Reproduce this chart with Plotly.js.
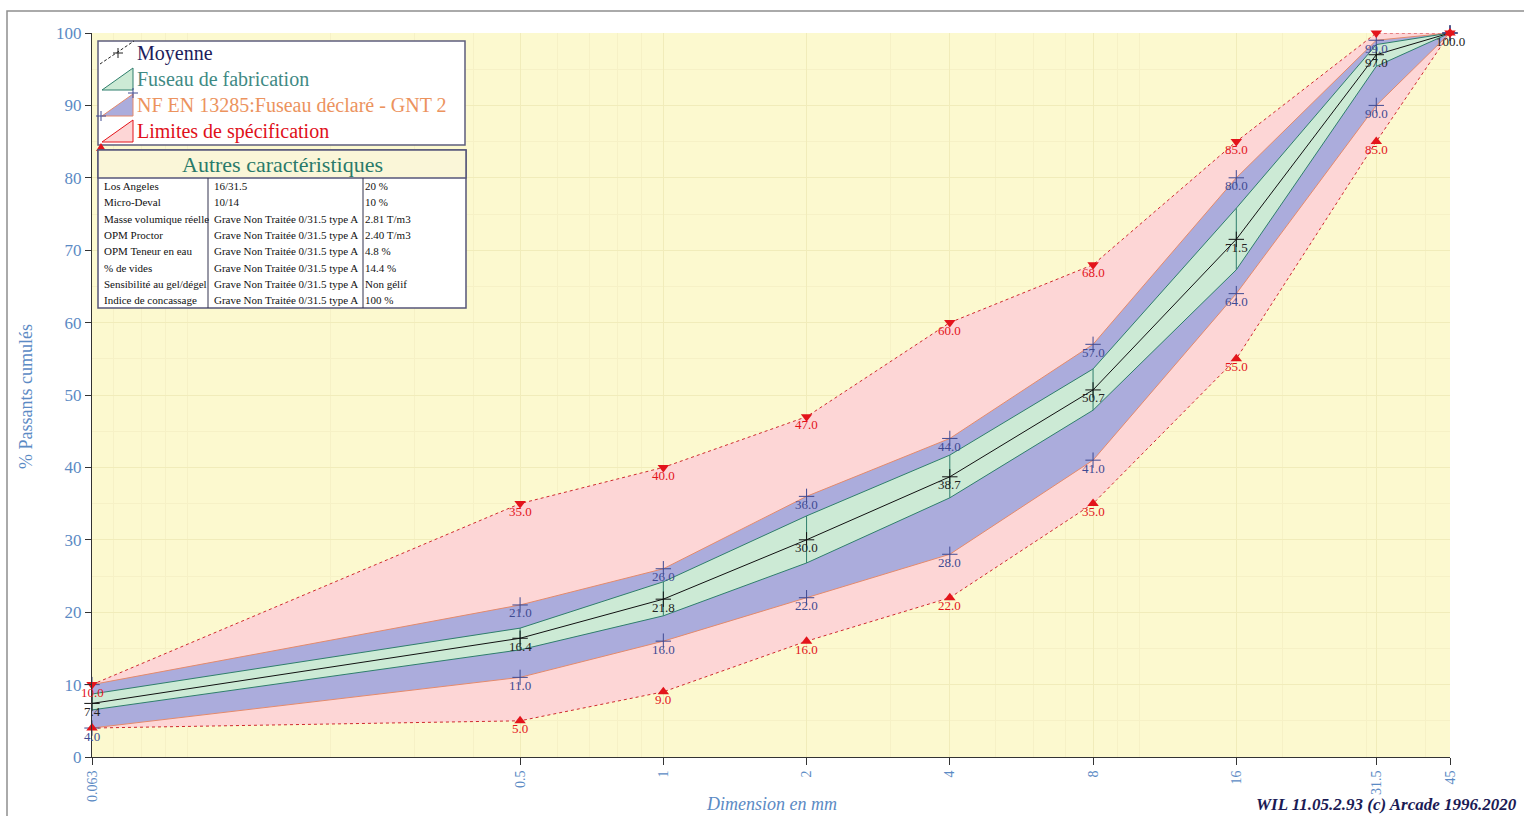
<!DOCTYPE html>
<html>
<head>
<meta charset="utf-8">
<script src="https://cdn.plot.ly/plotly-3.0.1.min.js"></script>
<style>html,body{margin:0;padding:0;background:#fff;}#chart{width:1524px;height:816px;}</style>
</head>
<body>
<div id="chart"></div>
<script>
// ---------- DATA ----------
const sieves = [0.063, 0.5, 1, 2, 4, 8, 16, 31.5, 45];
const sieveLabels = ["0.063", "0.5", "1", "2", "4", "8", "16", "31.5", "45"];
const moyenne = [7.4, 16.4, 21.8, 30.0, 38.7, 50.7, 71.5, 97.0, 100.0];
const fabSup = [8.7, 17.8, 24.2, 33.3, 41.7, 53.6, 75.8, 98.4, 100.0];
const fabInf = [6.5, 14.8, 19.5, 26.8, 35.8, 47.9, 67.3, 95.4, 100.0];
const nfSup = [10, 21, 26, 36, 44, 57, 80, 99, 100];
const nfInf = [4, 11, 16, 22, 28, 41, 64, 90, 100];
const specSup = [10, 35, 40, 47, 60, 68, 85, 100, 100];
const specInf = [4, 5, 9, 16, 22, 35, 55, 85, 100];

const legendLabels = ["Moyenne", "Fuseau de fabrication", "NF EN 13285:Fuseau déclaré - GNT 2", "Limites de spécification"];
const tableTitle = "Autres caractéristiques";
const tableCol1 = ["Los Angeles", "Micro-Deval", "Masse volumique réelle", "OPM Proctor", "OPM Teneur en eau", "% de vides", "Sensibilité au gel/dégel", "Indice de concassage"];
const tableCol2 = ["16/31.5", "10/14", "Grave Non Traitée 0/31.5 type A", "Grave Non Traitée 0/31.5 type A", "Grave Non Traitée 0/31.5 type A", "Grave Non Traitée 0/31.5 type A", "Grave Non Traitée 0/31.5 type A", "Grave Non Traitée 0/31.5 type A"];
const tableCol3 = ["20 %", "10 %", "2.81 T/m3", "2.40 T/m3", "4.8 %", "14.4 %", "Non gélif", "100 %"];
const yTitle = "% Passants cumulés";
const xTitle = "Dimension en mm";
const credit = "WIL 11.05.2.93 (c) Arcade 1996.2020";

// ---------- STYLE ----------
const C = {
  bg: '#FCF9CF', grid: '#F1ECBA', pink: '#FDD6D6', blue: '#ABACDC', green: '#CCEAD5',
  red: '#E3141B', redLine: '#CF2A2E', nfLine: '#E48A6C', teal: '#2F7E6C', mean: '#111111',
  blueLbl: '#3F4A92', axisTxt: '#5B8AC4', serif: 'Liberation Serif, DejaVu Serif, serif'
};
const L = 92, R = 1450, T = 33, B = 757;
const px = v => (v - L) / (R - L);
const py = v => (B - v) / (B - T);

const traces = [];
const line = (y, color, extra) => Object.assign({x: sieves, y: y, mode: 'lines', hoverinfo: 'skip', showlegend: false, line: {color: color, width: 1}, cliponaxis: false}, extra || {});
traces.push(line(specInf, C.redLine, {line: {color: C.redLine, width: 1, dash: '3px,3px'}}));
traces.push(line(specSup, C.redLine, {line: {color: C.redLine, width: 1, dash: '3px,3px'}, fill: 'tonexty', fillcolor: C.pink}));
traces.push(line(nfInf, C.nfLine));
traces.push(line(nfSup, C.nfLine, {fill: 'tonexty', fillcolor: C.blue}));
traces.push(line(fabInf, C.teal));
traces.push(line(fabSup, C.teal, {fill: 'tonexty', fillcolor: C.green}));
traces.push({
  x: sieves, y: moyenne, mode: 'lines+markers', showlegend: false, hoverinfo: 'skip', cliponaxis: false,
  line: {color: C.mean, width: 1},
  marker: {symbol: 'cross-thin-open', size: 11, color: C.mean, line: {color: C.mean, width: 1}},
  error_y: {type: 'data', symmetric: false, array: fabSup.map((v, i) => v - moyenne[i]), arrayminus: moyenne.map((v, i) => v - fabInf[i]), color: C.teal, thickness: 1, width: 0}
});
traces.push({x: sieves, y: nfSup, mode: 'markers', showlegend: false, hoverinfo: 'skip', cliponaxis: false,
  marker: {symbol: 'cross-thin-open', size: 11, color: C.blueLbl, line: {color: C.blueLbl, width: 1}}});
traces.push({x: sieves, y: nfInf, mode: 'markers', showlegend: false, hoverinfo: 'skip', cliponaxis: false,
  marker: {symbol: 'cross-thin-open', size: 11, color: C.blueLbl, line: {color: C.blueLbl, width: 1}}});
traces.push({x: sieves, y: specSup, mode: 'markers', showlegend: false, hoverinfo: 'skip', cliponaxis: false,
  marker: {symbol: 'triangle-down', size: 10, color: C.red}});
traces.push({x: sieves, y: specInf, mode: 'markers', showlegend: false, hoverinfo: 'skip', cliponaxis: false,
  marker: {symbol: 'triangle-up', size: 10, color: C.red}});

// ---------- ANNOTATIONS ----------
const ann = [];
function lbl(i, v, color) {
  ann.push({x: Math.log10(sieves[i]), y: v, xref: 'x', yref: 'y', xanchor: 'center', yanchor: 'middle', text: v.toFixed(1), showarrow: false,
    yshift: -8, font: {family: C.serif, size: 13, color: color}});
}
sieves.forEach((s, i) => {
  if (specSup[i] < 100) lbl(i, specSup[i], C.red);
  if (nfSup[i] < 100 && nfSup[i] !== specSup[i]) lbl(i, nfSup[i], C.blueLbl);
  if (nfInf[i] < 100) lbl(i, nfInf[i], C.blueLbl);
  if (specInf[i] < 100 && specInf[i] !== nfInf[i]) lbl(i, specInf[i], C.red);
  lbl(i, moyenne[i], '#222222');
});

const pa = (x, y, text, font, xanchor, extra) => Object.assign({xref: 'paper', yref: 'paper', x: px(x), y: py(y), text: text, showarrow: false,
  xanchor: xanchor || 'center', yanchor: 'middle', font: font}, extra || {});

// axis titles, credit
ann.push(pa(26, 397, yTitle, {family: C.serif, size: 18, color: C.axisTxt}, 'center', {textangle: -90}));
ann.push(pa(771, 804, '<i>' + xTitle + '</i>', {family: C.serif, size: 18, color: C.axisTxt}));
ann.push(pa(1254, 804, '<b><i>' + credit + '</i></b>', {family: C.serif, size: 17, color: '#1B1B55'}, 'left'));

// legend texts
const legColors = ['#1C1C5C', '#3F8A84', '#EC935E', '#E0101A'];
const legY = [53, 79, 105, 131];
legendLabels.forEach((t, i) => ann.push(pa(135, legY[i], t, {family: C.serif, size: 20, color: legColors[i]}, 'left')));

// table
ann.push(pa(282, 164, tableTitle, {family: C.serif, size: 22, color: '#2A7A6A'}));
const colX = [102, 212, 363];
[tableCol1, tableCol2, tableCol3].forEach((col, c) => col.forEach((t, r) =>
  ann.push(pa(colX[c], 186 + r * 16.3, t, {family: C.serif, size: 11, color: '#111'}, 'left'))));

// ---------- SHAPES ----------
const P = (pts) => 'M' + pts.map(p => px(p[0]) + ',' + py(p[1])).join(' L') + ' Z';
const shapes = [
  {type: 'rect', xref: 'paper', yref: 'paper', x0: px(7), x1: px(1540), y0: py(830), y1: py(11), line: {color: '#8F8F8F', width: 1.5}, layer: 'below'},
  // legend box
  {type: 'rect', xref: 'paper', yref: 'paper', x0: px(98), x1: px(465), y0: py(145), y1: py(41), fillcolor: '#FFFFFF', line: {color: '#5E5E7E', width: 1.5}},
  {type: 'line', xref: 'paper', yref: 'paper', x0: px(100), y0: py(64), x1: px(134), y1: py(41), line: {color: '#222', width: 1, dash: '3px,2px'}},
  {type: 'line', xref: 'paper', yref: 'paper', x0: px(113), y0: py(53), x1: px(123), y1: py(53), line: {color: '#222', width: 1}},
  {type: 'line', xref: 'paper', yref: 'paper', x0: px(118), y0: py(48), x1: px(118), y1: py(58), line: {color: '#222', width: 1}},
  {type: 'path', xref: 'paper', yref: 'paper', path: P([[102, 90], [133, 68], [133, 90]]), fillcolor: C.green, line: {color: C.teal, width: 1}},
  {type: 'path', xref: 'paper', yref: 'paper', path: P([[102, 116], [133, 94], [133, 116]]), fillcolor: C.blue, line: {color: C.nfLine, width: 1}},
  {type: 'line', xref: 'paper', yref: 'paper', x0: px(96), y0: py(116), x1: px(106), y1: py(116), line: {color: C.blueLbl, width: 1}},
  {type: 'line', xref: 'paper', yref: 'paper', x0: px(101), y0: py(111), x1: px(101), y1: py(121), line: {color: C.blueLbl, width: 1}},
  {type: 'line', xref: 'paper', yref: 'paper', x0: px(128), y0: py(93), x1: px(138), y1: py(93), line: {color: C.blueLbl, width: 1}},
  {type: 'line', xref: 'paper', yref: 'paper', x0: px(133), y0: py(88), x1: px(133), y1: py(98), line: {color: C.blueLbl, width: 1}},
  {type: 'path', xref: 'paper', yref: 'paper', path: P([[102, 142], [133, 120], [133, 142]]), fillcolor: C.pink, line: {color: C.red, width: 1}},
  {type: 'path', xref: 'paper', yref: 'paper', path: P([[96, 151], [101, 143], [106, 151]]), fillcolor: C.red, line: {color: C.red, width: 0}},
  // table
  {type: 'rect', xref: 'paper', yref: 'paper', x0: px(98), x1: px(466), y0: py(308), y1: py(150), fillcolor: '#FFFFFF', line: {color: '#55557A', width: 1.5}},
  {type: 'rect', xref: 'paper', yref: 'paper', x0: px(98), x1: px(466), y0: py(178), y1: py(150), fillcolor: '#FAF6D8', line: {color: '#55557A', width: 1.5}},
  {type: 'line', xref: 'paper', yref: 'paper', x0: px(208), x1: px(208), y0: py(178), y1: py(308), line: {color: '#33334F', width: 1}},
  {type: 'line', xref: 'paper', yref: 'paper', x0: px(363), x1: px(363), y0: py(178), y1: py(308), line: {color: '#33334F', width: 1}}
];

// minor grid positions for the log axis
const minorVals = [];
[0.01, 0.1, 1, 10].forEach(d => { for (let k = 1; k <= 9; k++) { const v = d * k; if (v > 0.063 && v < 45) minorVals.push(+v.toFixed(3)); } });

const layout = {
  width: 1524, height: 816,
  margin: {l: L, r: 1524 - R, t: T, b: 816 - B, pad: 0},
  paper_bgcolor: '#FFFFFF', plot_bgcolor: C.bg,
  showlegend: false,
  font: {family: C.serif},
  xaxis: {
    type: 'log', range: [Math.log10(0.063), Math.log10(45)], tickmode: 'array', tickvals: sieves, ticktext: sieveLabels,
    tickangle: -90, ticks: 'outside', ticklen: 7, tickcolor: '#333', tickfont: {family: C.serif, size: 14, color: C.axisTxt},
    showline: true, linecolor: '#333', linewidth: 1, showgrid: true, gridcolor: C.grid, zeroline: false, fixedrange: true,
    minor: {tickmode: 'array', tickvals: minorVals, showgrid: true, gridcolor: '#F6F1C6', ticks: ''}
  },
  yaxis: {
    range: [0, 100], dtick: 10, ticks: 'outside', ticklen: 6, tickcolor: '#333', tickfont: {family: C.serif, size: 17, color: C.axisTxt},
    showline: true, linecolor: '#333', linewidth: 1, showgrid: true, gridcolor: C.grid, zeroline: false, fixedrange: true,
    minor: {dtick: 5, showgrid: true, gridcolor: '#F6F1C6', ticks: ''}
  },
  annotations: ann,
  shapes: shapes
};
Plotly.newPlot('chart', traces, layout, {staticPlot: true, displayModeBar: false});
</script>
</body>
</html>
